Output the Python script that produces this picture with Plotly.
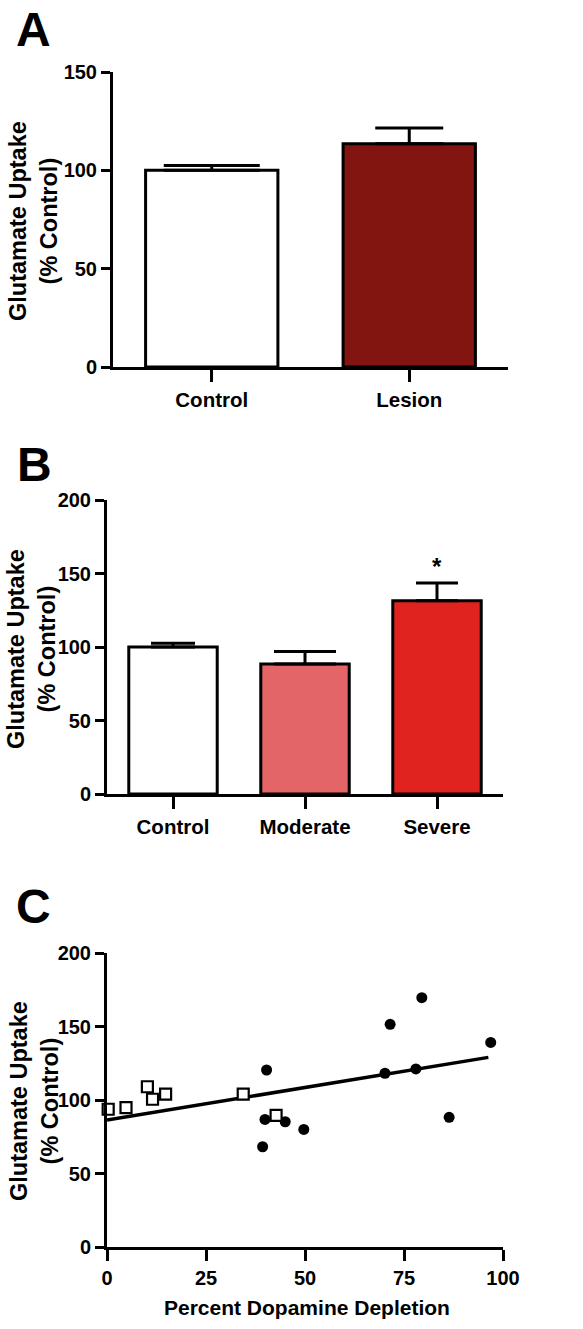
import plotly.graph_objects as go

FONT = "Liberation Sans, Arial, sans-serif"

# ---------------- Data ----------------
# Panel A
a_categories = ["Control", "Lesion"]
a_values = [100, 113.5]
a_errors = [2.5, 8]
a_colors = ["#FFFFFF", "#821510"]
a_yticks = [0, 50, 100, 150]

# Panel B
b_categories = ["Control", "Moderate", "Severe"]
b_values = [100, 88.5, 131.5]
b_errors = [2.5, 8.5, 12]
b_colors = ["#FFFFFF", "#E46567", "#E0231E"]
b_yticks = [0, 50, 100, 150, 200]
b_sig_category = "Severe"
b_sig_y = 155
b_sig_text = "*"

# Panel C
c_x_control = [0.3, 4.8, 10.2, 11.5, 14.8, 34.4, 42.7]
c_y_control = [93.7, 94.8, 109, 100.5, 104, 104, 89.6]
c_x_lesion = [39.9, 40.3, 39.3, 45.0, 49.7, 71.5, 70.2, 78.0, 79.5, 86.4, 96.9]
c_y_lesion = [86.8, 120.4, 68.2, 85.2, 80.0, 151.5, 118.2, 121.1, 169.6, 88.2, 139.2]
c_fit_x = [0, 96.3]
c_fit_y = [86.4, 129.0]
c_xticks = [0, 25, 50, 75, 100]
c_yticks = [0, 50, 100, 150, 200]

y_title = "Glutamate Uptake<br>(% Control)"
c_x_title = "Percent Dopamine Depletion"

# ---------------- Styles ----------------
W, H = 583, 1329
a_cap = [48, 34]
b_cap = [22, 31, 21]


def px_x(p):
    return p / W


def px_y(p):
    return 1 - p / H


fig = go.Figure()

for cat, val, err, col, cap in zip(a_categories, a_values, a_errors, a_colors, a_cap):
    fig.add_trace(go.Bar(
        x=[cat], y=[val], width=0.67,
        marker=dict(color=col, line=dict(color="black", width=3)),
        error_y=dict(type="data", array=[err], arrayminus=[0], symmetric=False,
                     color="black", thickness=3, width=cap),
        xaxis="x", yaxis="y", showlegend=False, hoverinfo="skip"))

for cat, val, err, col, cap in zip(b_categories, b_values, b_errors, b_colors, b_cap):
    fig.add_trace(go.Bar(
        x=[cat], y=[val], width=0.67,
        marker=dict(color=col, line=dict(color="black", width=3)),
        error_y=dict(type="data", array=[err], arrayminus=[0], symmetric=False,
                     color="black", thickness=3, width=cap),
        xaxis="x2", yaxis="y2", showlegend=False, hoverinfo="skip"))

fig.add_trace(go.Scatter(
    x=c_fit_x, y=c_fit_y, mode="lines",
    line=dict(color="black", width=3.5),
    xaxis="x3", yaxis="y3", showlegend=False, cliponaxis=False))
fig.add_trace(go.Scatter(
    x=c_x_lesion, y=c_y_lesion, mode="markers",
    marker=dict(symbol="circle", size=11, color="black"),
    xaxis="x3", yaxis="y3", showlegend=False, cliponaxis=False))
fig.add_trace(go.Scatter(
    x=c_x_control, y=c_y_control, mode="markers",
    marker=dict(symbol="square", size=11, color="white",
                line=dict(color="black", width=2.2)),
    xaxis="x3", yaxis="y3", showlegend=False, cliponaxis=False))

tickfont = dict(family=FONT, size=20, color="black", weight="bold")
catfont = dict(family=FONT, size=20.5, color="black", weight="bold")
common = dict(showline=True, linewidth=3, linecolor="black", ticks="outside",
              tickwidth=3, tickcolor="black", showgrid=False, zeroline=False,
              fixedrange=True, automargin=False)

fig.update_layout(
    width=W, height=H,
    margin=dict(l=0, r=0, t=0, b=0, pad=0),
    paper_bgcolor="white", plot_bgcolor="white",
    barmode="overlay", showlegend=False,
    xaxis=dict(domain=[px_x(113), px_x(508)], anchor="y", type="category",
               range=[-0.5, 1.5], ticklen=12, tickfont=catfont, **common),
    yaxis=dict(domain=[px_y(367), px_y(72)], anchor="x", range=[0, 150],
               tickvals=a_yticks, ticklen=9, tickfont=tickfont, **common),
    xaxis2=dict(domain=[px_x(107), px_x(503)], anchor="y2", type="category",
                range=[-0.5, 2.5], ticklen=12, tickfont=catfont, **common),
    yaxis2=dict(domain=[px_y(794), px_y(500)], anchor="x2", range=[0, 200],
                tickvals=b_yticks, ticklen=9, tickfont=tickfont, **common),
    xaxis3=dict(domain=[px_x(107), px_x(503)], anchor="y3", range=[0, 100],
                tickvals=c_xticks, ticklen=11, tickfont=tickfont, **common),
    yaxis3=dict(domain=[px_y(1247), px_y(953)], anchor="x3", range=[0, 200],
                tickvals=c_yticks, ticklen=9, tickfont=tickfont, **common),
)

annotations = []
for letter, cx, cy in [("A", 33, 30), ("B", 34, 464), ("C", 33, 907)]:
    annotations.append(dict(text=letter, x=px_x(cx), y=px_y(cy), xref="paper", yref="paper",
                            xanchor="center", yanchor="middle", showarrow=False,
                            font=dict(family=FONT, size=48, color="black", weight="bold")))
for cx, cy in [(34, 221), (31, 649), (34, 1101)]:
    annotations.append(dict(text=y_title, x=px_x(cx), y=px_y(cy), xref="paper", yref="paper",
                            xanchor="center", yanchor="middle", showarrow=False, textangle=-90,
                            font=dict(family=FONT, size=23.5, color="black", weight="bold")))
annotations.append(dict(text=c_x_title, x=px_x(307), y=px_y(1307), xref="paper", yref="paper",
                        xanchor="center", yanchor="middle", showarrow=False,
                        font=dict(family=FONT, size=21, color="black", weight="bold")))
annotations.append(dict(text=b_sig_text, x=b_sig_category, y=b_sig_y, xref="x2", yref="y2",
                        xanchor="center", yanchor="middle", showarrow=False,
                        font=dict(family=FONT, size=24, color="black", weight="bold")))
fig.update_layout(annotations=annotations)

fig.write_html("out.html", config={"displayModeBar": False})
